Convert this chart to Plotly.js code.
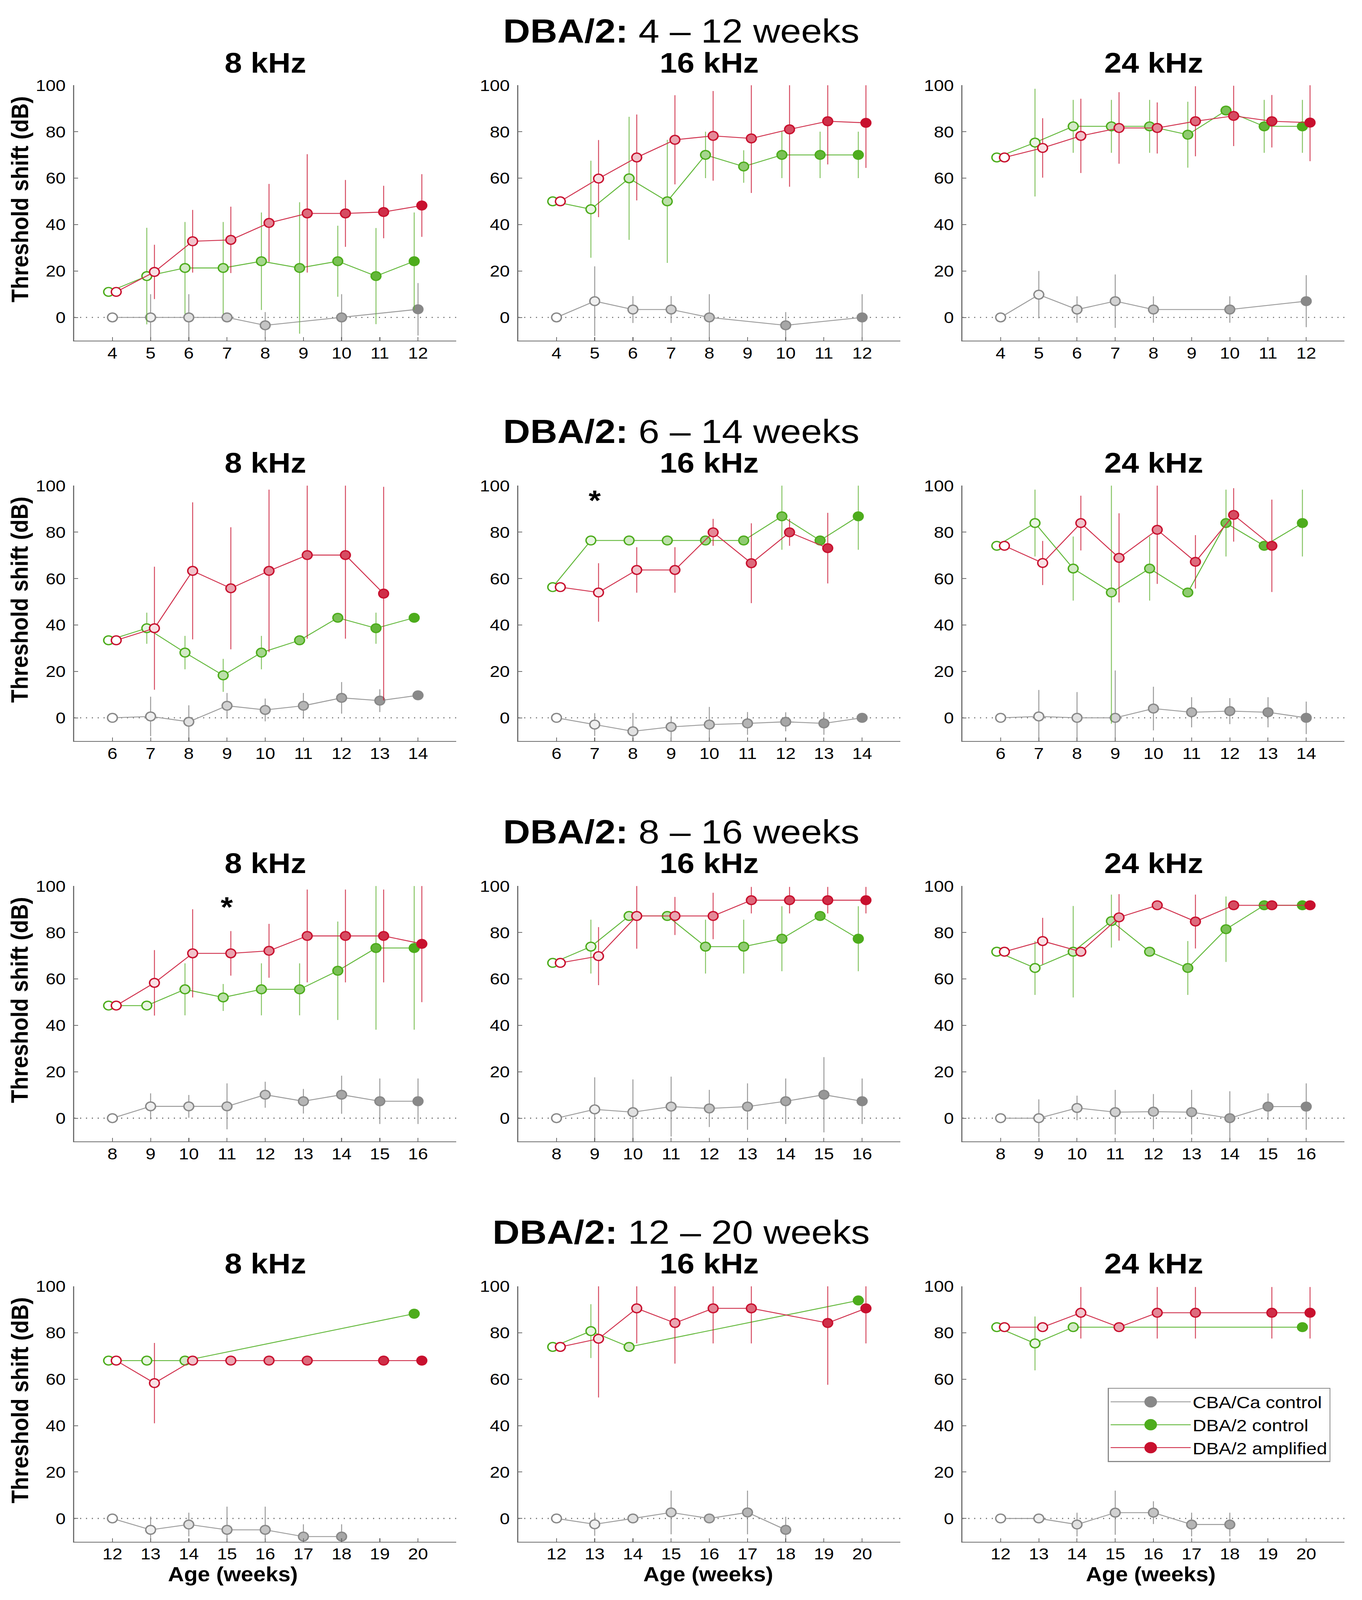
<!DOCTYPE html>
<html><head><meta charset="utf-8">
<script src="https://cdn.plot.ly/plotly-3.0.1.min.js"></script>
<style>html,body{margin:0;padding:0;background:#fff;overflow:hidden;}#chart{width:3487px;height:4568px;transform-origin:0 0;}</style>
</head><body><div id="chart"></div>
<script>
// ================= DATA =================
const seriesNames = ['CBA/Ca control', 'DBA/2 control', 'DBA/2 amplified'];
const freqLabels = ['8 kHz', '16 kHz', '24 kHz'];
const rowLabels = ['4 – 12 weeks', '6 – 14 weeks', '8 – 16 weeks', '12 – 20 weeks'];
const strainLabel = 'DBA/2:';
const yTitle = 'Threshold shift (dB)';
const xTitle = 'Age (weeks)';
const yTicks = [0, 20, 40, 60, 80, 100];

const weeks_4_12 = [4, 5, 6, 7, 8, 9, 10, 11, 12];
const weeks_6_14 = [6, 7, 8, 9, 10, 11, 12, 13, 14];
const weeks_8_16 = [8, 9, 10, 11, 12, 13, 14, 15, 16];
const weeks_12_20 = [12, 13, 14, 15, 16, 17, 18, 19, 20];

// Row 1: 4-12 weeks
const cba_8k_r1 = [0, 0, 0, 0, -3.4, null, 0, null, 3.5];
const cba_8k_r1_err = [0, 10, 10, 0, 5.7, null, 10, null, 11.3];
const dba_8k_r1 = [11.0, 17.8, 21.3, 21.3, 24.2, 21.3, 24.2, 17.8, 24.2];
const dba_8k_r1_err = [0, 20.8, 19.8, 19.8, 21, 28.3, 15.3, 20.7, 21];
const amp_8k_r1 = [11.0, 19.6, 32.8, 33.4, 40.7, 44.8, 44.8, 45.4, 48.2];
const amp_8k_r1_err = [0, 11.7, 13.5, 14.3, 16.8, 25.5, 14.4, 11.3, 13.5];

const cba_16k_r1 = [0, 7, 3.4, 3.4, 0, null, -3.4, null, 0];
const cba_16k_r1_err = [0, 15, 5.8, 5.8, 10, null, 5.7, null, 10];
const dba_16k_r1 = [50, 46.6, 59.9, 50, 70, 65, 70, 70, 70];
const dba_16k_r1_err = [0, 20.9, 26.5, 26.5, 10, 7, 10, 10, 10];
const amp_16k_r1 = [50, 59.8, 68.9, 76.5, 78.2, 77.1, 81, 84.5, 83.8];
const amp_16k_r1_err = [0, 16.6, 18.5, 19.2, 19.3, 23.5, 24.7, 18.6, 19.4];

const cba_24k_r1 = [0, 9.8, 3.4, 7, 3.4, null, 3.4, null, 7];
const cba_24k_r1_err = [0, 10.2, 5.7, 11.5, 5.7, null, 5.7, null, 11.2];
const dba_24k_r1 = [68.9, 75.3, 82.3, 82.3, 82.3, 78.7, 89.1, 82.3, 82.3];
const dba_24k_r1_err = [0, 23.2, 11.4, 11.4, 11.4, 14.2, 0, 11.4, 11.4];
const amp_24k_r1 = [68.9, 73, 78.2, 81.6, 81.6, 84.5, 86.8, 84.5, 83.9];
const amp_24k_r1_err = [0, 12.8, 16, 15.4, 11, 15.1, 13, 11.3, 16.6];

// Row 2: 6-14 weeks
const cba_8k_r2 = [0, 0.6, -1.7, 5.2, 3.4, 5.2, 8.6, 7.4, 9.7];
const cba_8k_r2_err = [0, 8.5, 7.1, 5.5, 4.9, 5.5, 6.8, 4.9, 0];
const dba_8k_r2 = [33.4, 38.6, 28.1, 18.3, 28.1, 33.4, 43.1, 38.6, 43.1];
const dba_8k_r2_err = [0, 6.7, 7.2, 7.1, 7.2, 0, 0, 6.7, 0];
const amp_8k_r2 = [33.4, 38.6, 63.3, 55.8, 63.3, 70.1, 70.1, 53.5, null];
const amp_8k_r2_err = [0, 26.5, 29.5, 26.3, 35, 36, 36, 46, null];

const cba_16k_r2 = [0, -2.9, -5.8, -3.9, -2.9, -2.4, -1.7, -2.4, 0];
const cba_16k_r2_err = [0, 4.9, 7.9, 4.6, 7.6, 4.9, 4.1, 4.9, 0];
const dba_16k_r2 = [56.3, 76.4, 76.4, 76.4, 76.4, 76.4, 86.8, 76.4, 86.8];
const dba_16k_r2_err = [0, 0, 0, 0, 0, 0, 14.4, 0, 14.4];
const amp_16k_r2 = [56.3, 54, 63.7, 63.7, 79.9, 66.6, 79.9, 73.1, null];
const amp_16k_r2_err = [0, 12.6, 9.8, 9.8, 5.8, 17.2, 5.8, 15.2, null];

const cba_24k_r2 = [0, 0.6, 0, 0, 4, 2.4, 2.9, 2.4, 0];
const cba_24k_r2_err = [0, 11.4, 11.1, 20.4, 9.4, 6.5, 5.6, 6.5, 7];
const dba_24k_r2 = [74.1, 83.9, 64.3, 54, 64.3, 54, 83.9, 74.1, 83.9];
const dba_24k_r2_err = [0, 14.4, 13.8, 56.5, 13.8, 0, 14.4, 0, 14.4];
const amp_24k_r2 = [74.1, 66.7, 83.9, 68.9, 81, 67.2, 87.4, 74.1, null];
const amp_24k_r2_err = [0, 9.5, 11.8, 19.2, 23.3, 11.5, 11.5, 19.9, null];

// Row 3: 8-16 weeks
const cba_8k_r3 = [0, 5.1, 5.1, 5.1, 10.1, 7.3, 10.1, 7.3, 7.3];
const cba_8k_r3_err = [0, 5.6, 4.9, 9.9, 5.6, 5.3, 8.2, 9.8, 9.8];
const dba_8k_r3 = [48.5, 48.5, 55.5, 52, 55.5, 55.5, 63.5, 73.3, 73.3];
const dba_8k_r3_err = [0, 0, 11.2, 5.8, 11.2, 11.2, 21.2, 35.2, 35.2];
const amp_8k_r3 = [48.5, 58.3, 71, 71, 72.1, 78.5, 78.5, 78.5, 75.1];
const amp_8k_r3_err = [0, 14.1, 19, 9.6, 11.6, 20, 20, 20, 25.1];

const cba_16k_r3 = [0, 3.8, 2.6, 5, 4.2, 5, 7.3, 10.1, 7.3];
const cba_16k_r3_err = [0, 13.8, 14.1, 12.9, 8, 10, 9.8, 16.2, 9.8];
const dba_16k_r3 = [66.9, 73.9, 87.1, 87.1, 73.9, 73.9, 77.3, 87.1, 77.3];
const dba_16k_r3_err = [0, 11.6, 0, 0, 11.6, 11.6, 14, 0, 14];
const amp_16k_r3 = [66.9, 69.8, 87.1, 87.1, 87.1, 93.9, 93.9, 93.9, 93.9];
const amp_16k_r3_err = [0, 12.5, 14.1, 8.2, 10, 5.7, 5.7, 5.7, 5.7];

const cba_24k_r3 = [0, 0, 4.4, 2.6, 2.8, 2.6, 0, 5, 5];
const cba_24k_r3_err = [0, 8.1, 5.3, 9.6, 7.6, 9.6, 11.6, 5.7, 10];
const dba_24k_r3 = [71.7, 64.7, 71.7, 84.9, 71.7, 64.7, 81.4, 91.7, 91.7];
const dba_24k_r3_err = [0, 11.6, 19.7, 11.4, 0, 11.6, 14.1, 0, 0];
const amp_24k_r3 = [71.7, 76.3, 71.7, 86.5, 91.7, 84.7, 91.7, 91.7, 91.7];
const amp_24k_r3_err = [0, 10, 0, 10, 0, 11.6, 0, 0, 0];

// Row 4: 12-20 weeks
const cba_8k_r4 = [0, -4.9, -2.6, -4.9, -4.9, -7.8, -7.8, null, null];
const cba_8k_r4_err = [0, 5.7, 5.1, 10, 10, 5.3, 5.3, null, null];
const dba_8k_r4 = [68, 68, 68, null, null, null, null, null, 88.2];
const dba_8k_r4_err = [0, 0, 0, null, null, null, null, null, 0];
const amp_8k_r4 = [68, 58.3, 68, 68, 68, 68, null, 68, 68];
const amp_8k_r4_err = [0, 17.3, 0, 0, 0, 0, null, 0, 0];

const cba_16k_r4 = [0, -2.5, 0, 2.6, 0, 2.6, -4.9, null, null];
const cba_16k_r4_err = [0, 5, 0, 9.4, 0, 9.4, 5.6, null, null];
const dba_16k_r4 = [73.9, 80.7, 73.9, null, null, null, null, null, 93.9];
const dba_16k_r4_err = [0, 11.6, 0, null, null, null, null, null, 0];
const amp_16k_r4 = [73.9, 77.4, 90.5, 84.2, 90.5, 90.5, null, 84.2, 90.5];
const amp_16k_r4_err = [0, 25.3, 15.1, 17.5, 15.1, 15.1, null, 26.6, 15.1];

const cba_24k_r4 = [0, 0, -2.6, 2.5, 2.5, -2.6, -2.6, null, null];
const cba_24k_r4_err = [0, 0, 5.1, 9.5, 4.9, 5.1, 5.1, null, null];
const dba_24k_r4 = [82.4, 75.4, 82.4, null, null, null, null, null, 82.4];
const dba_24k_r4_err = [0, 11.6, 0, null, null, null, null, null, 0];
const amp_24k_r4 = [82.4, 82.4, 88.6, 82.4, 88.6, 88.6, null, 88.6, 88.6];
const amp_24k_r4_err = [0, 0, 11.1, 0, 11.1, 11.1, null, 11.1, 11.1];

// significance markers: [panel index, week, dB]
const stars = [[4, 7, 94.8], [6, 11, 92.2]];

// ================= PANEL TABLE =================
const rowWeeks = [weeks_4_12, weeks_6_14, weeks_8_16, weeks_12_20];
const panels = [
  [cba_8k_r1, cba_8k_r1_err, dba_8k_r1, dba_8k_r1_err, amp_8k_r1, amp_8k_r1_err],
  [cba_16k_r1, cba_16k_r1_err, dba_16k_r1, dba_16k_r1_err, amp_16k_r1, amp_16k_r1_err],
  [cba_24k_r1, cba_24k_r1_err, dba_24k_r1, dba_24k_r1_err, amp_24k_r1, amp_24k_r1_err],
  [cba_8k_r2, cba_8k_r2_err, dba_8k_r2, dba_8k_r2_err, amp_8k_r2, amp_8k_r2_err],
  [cba_16k_r2, cba_16k_r2_err, dba_16k_r2, dba_16k_r2_err, amp_16k_r2, amp_16k_r2_err],
  [cba_24k_r2, cba_24k_r2_err, dba_24k_r2, dba_24k_r2_err, amp_24k_r2, amp_24k_r2_err],
  [cba_8k_r3, cba_8k_r3_err, dba_8k_r3, dba_8k_r3_err, amp_8k_r3, amp_8k_r3_err],
  [cba_16k_r3, cba_16k_r3_err, dba_16k_r3, dba_16k_r3_err, amp_16k_r3, amp_16k_r3_err],
  [cba_24k_r3, cba_24k_r3_err, dba_24k_r3, dba_24k_r3_err, amp_24k_r3, amp_24k_r3_err],
  [cba_8k_r4, cba_8k_r4_err, dba_8k_r4, dba_8k_r4_err, amp_8k_r4, amp_8k_r4_err],
  [cba_16k_r4, cba_16k_r4_err, dba_16k_r4, dba_16k_r4_err, amp_16k_r4, amp_16k_r4_err],
  [cba_24k_r4, cba_24k_r4_err, dba_24k_r4, dba_24k_r4_err, amp_24k_r4, amp_24k_r4_err]
];

// ================= STYLE =================
const W = 3487, H = 4568;
const FONT = 'Liberation Sans, Arial, Helvetica, sans-serif';
const colLeft = [190, 1327, 2464], plotW = 978;
const rowTop = [243.4, 1386.6, 2529.6, 3672.4], plotH = 729.1;
const xTitleX = [596, 1813, 2946];
const baseRGB = [[136, 136, 136], [77, 172, 28], [200, 16, 46]];
const lineCol = ['#9a9a9a', '#62b83a', '#d0304c'];
const errCol = ['rgba(120,120,120,0.75)', 'rgba(95,178,50,0.75)', 'rgba(200,16,46,0.75)'];
const xOffset = [0, -0.1, 0.1];
const axisCol = '#6e6e6e';
const TICK = 46;

function mix(rgb, t) {
  const c = rgb.map(v => Math.round(255 + (v - 255) * t));
  return 'rgb(' + c.join(',') + ')';
}
function rgbStr(rgb) { return 'rgb(' + rgb.join(',') + ')'; }

// fit the fixed-size figure into the actual viewport
const sx = window.innerWidth / W, sy = window.innerHeight / H;
document.getElementById('chart').style.transform = 'scale(' + sx + ',' + sy + ')';

const traces = [];
const layout = {
  width: W, height: H, autosize: false,
  margin: {l: 0, r: 0, t: 0, b: 0},
  paper_bgcolor: '#fff', plot_bgcolor: 'rgba(0,0,0,0)',
  font: {family: FONT, color: '#000', size: TICK},
  showlegend: true,
  legend: {
    x: 2836 / W, y: 1 - 3962 / H, xanchor: 'left', yanchor: 'top',
    bgcolor: '#fff', bordercolor: '#8a8a8a', borderwidth: 2.5,
    font: {family: FONT, size: 48, color: '#000'},
    itemwidth: 205, tracegroupgap: 0
  },
  annotations: [], shapes: []
};

panels.forEach((p, i) => {
  const r = Math.floor(i / 3), c = i % 3, k = i + 1;
  const weeks = rowWeeks[r];
  const w0 = weeks[0], w1 = weeks[weeks.length - 1];
  const xa = k === 1 ? 'x' : 'x' + k, ya = k === 1 ? 'y' : 'y' + k;
  const xkey = k === 1 ? 'xaxis' : 'xaxis' + k, ykey = k === 1 ? 'yaxis' : 'yaxis' + k;
  const x0 = colLeft[c] / W, x1 = (colLeft[c] + plotW) / W;
  const yb = 1 - (rowTop[r] + plotH) / H, yt = 1 - rowTop[r] / H;
  layout[xkey] = {
    domain: [x0, x1], anchor: ya, range: [w0 - 1, w1 + 1],
    tickmode: 'array', tickvals: weeks, ticktext: weeks.map(String),
    ticks: 'inside', ticklen: 10, tickwidth: 2.2, tickcolor: axisCol,
    showline: true, linecolor: axisCol, linewidth: 2.6, mirror: false,
    showgrid: false, zeroline: false, ticklabelstandoff: -7,
    tickfont: {family: FONT, size: TICK, color: '#000'}, fixedrange: true
  };
  layout[ykey] = {
    domain: [yb, yt], anchor: xa, range: [-10, 100],
    tickmode: 'array', tickvals: yTicks, ticktext: yTicks.map(String),
    ticks: 'inside', ticklen: 10, tickwidth: 2.2, tickcolor: axisCol,
    showline: true, linecolor: axisCol, linewidth: 2.6, mirror: false,
    showgrid: false, zeroline: false, ticklabelstandoff: 10,
    tickfont: {family: FONT, size: TICK, color: '#000'}, fixedrange: true
  };
  // zero reference line
  layout.shapes.push({
    type: 'line', xref: xa + ' domain', yref: ya, x0: 0, x1: 1, y0: 0, y1: 0,
    line: {color: '#7a7a7a', width: 3.2, dash: '3px,12px'}, layer: 'below'
  });
  // series
  for (let s = 0; s < 3; s++) {
    const yv = p[2 * s], ev = p[2 * s + 1];
    const fills = weeks.map(w => mix(baseRGB[s], (w - w0) / (w1 - w0)));
    traces.push({
      type: 'scatter', mode: 'lines+markers', name: seriesNames[s],
      x: weeks.map(w => w + xOffset[s]), y: yv,
      xaxis: xa, yaxis: ya, connectgaps: true, showlegend: false, hoverinfo: 'skip',
      line: {color: lineCol[s], width: 2.6},
      marker: {symbol: 'circle', size: 25, color: fills, line: {color: rgbStr(baseRGB[s]), width: 3.6}},
      error_y: {type: 'data', array: ev, visible: true, color: errCol[s], thickness: 2.5, width: 0}
    });
  }
  // panel title
  layout.annotations.push({
    xref: 'paper', yref: 'paper', x: (colLeft[c] + plotW / 2) / W, y: 1 - (rowTop[r] - 64) / H,
    xanchor: 'center', yanchor: 'middle', showarrow: false,
    text: '<b>' + freqLabels[c] + '</b>', font: {family: FONT, size: 80, color: '#000'}
  });
  if (c === 0) {
    layout.annotations.push({
      xref: 'paper', yref: 'paper', x: 50 / W, y: 1 - (rowTop[r] + 326) / H,
      xanchor: 'center', yanchor: 'middle', showarrow: false, textangle: -90,
      text: '<b>' + yTitle + '</b>', font: {family: FONT, size: 62, color: '#000'}
    });
  }
  if (r === 3) {
    layout.annotations.push({
      xref: 'paper', yref: 'paper', x: xTitleX[c] / W, y: 1 - 4494 / H,
      xanchor: 'center', yanchor: 'middle', showarrow: false,
      text: '<b>' + xTitle + '</b>', font: {family: FONT, size: 57, color: '#000'}
    });
  }
});

// row titles
rowLabels.forEach((lab, r) => {
  layout.annotations.push({
    xref: 'paper', yref: 'paper', x: 0.5, y: 1 - (rowTop[r] - 155) / H,
    xanchor: 'center', yanchor: 'middle', showarrow: false,
    text: '<b>' + strainLabel + '</b> ' + lab, font: {family: FONT, size: 96, color: '#000'}
  });
});

// significance stars
stars.forEach(([pi, wk, db]) => {
  const k = pi + 1;
  layout.annotations.push({
    xref: k === 1 ? 'x' : 'x' + k, yref: k === 1 ? 'y' : 'y' + k, x: wk, y: db,
    xanchor: 'center', yanchor: 'middle', showarrow: false, yshift: -8,
    text: '<b>*</b>', font: {family: FONT, size: 80, color: '#000'}
  });
});

// legend entries (solid symbols)
for (let s = 0; s < 3; s++) {
  traces.push({
    type: 'scatter', mode: 'lines+markers', name: seriesNames[s],
    x: [null], y: [null], xaxis: 'x12', yaxis: 'y12', showlegend: true, hoverinfo: 'skip',
    line: {color: lineCol[s], width: 2.6},
    marker: {symbol: 'circle', size: 16, color: rgbStr(baseRGB[s]), line: {color: rgbStr(baseRGB[s]), width: 1}}
  });
}

Plotly.newPlot('chart', traces, layout, {staticPlot: true, displayModeBar: false}).then(gd => {
  gd.querySelectorAll('.legend .legendpoints path.scatterpts').forEach(pt => {
    const tr = pt.getAttribute('transform') || '';
    pt.setAttribute('transform', tr + ' scale(1.9)');
  });
});
</script></body></html>
